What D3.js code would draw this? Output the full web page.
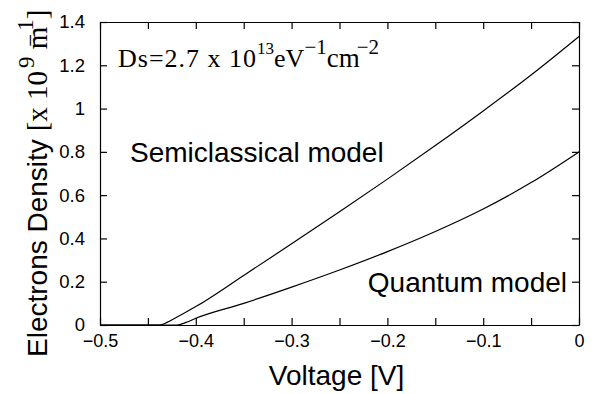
<!DOCTYPE html>
<html><head><meta charset="utf-8">
<script src="https://cdn.jsdelivr.net/npm/d3@7"></script>
<style>body{margin:0;background:#fff}svg{display:block}</style>
</head><body>
<svg id="c" width="599" height="394"></svg>
<script>
const voltage = [-0.5,-0.45,-0.4375,-0.43,-0.42,-0.41,-0.4,-0.35,-0.3,-0.25,-0.2,-0.15,-0.1,-0.05,0];
const semiclassical = [0,0,0,0.012,0.036,0.06,0.085,0.229,0.375,0.523,0.674,0.829,0.989,1.155,1.333];
const quantum = [0,0,0,0,0,0.012,0.031,0.10,0.175,0.254,0.339,0.432,0.536,0.658,0.80];
const xTicks = [-0.5,-0.4,-0.3,-0.2,-0.1,0];
const xMinor = [-0.45,-0.35,-0.25,-0.15,-0.05];
const yTicks = [0,0.2,0.4,0.6,0.8,1,1.2,1.4];

const svg = d3.select("#c");
const L=100,R=579,T=22,B=325;
const x = d3.scaleLinear().domain([-0.5,0]).range([L,R]);
const y = d3.scaleLinear().domain([0,1.4]).range([B,T]);
const sans = "'Liberation Sans', Arial, Helvetica, sans-serif";
const serif = "'Liberation Serif', 'Times New Roman', serif";
const fmtX = d => d===0 ? "0" : "\u2212" + Math.abs(d).toFixed(1);
const fmtY = d => d===0 ? "0" : (Number.isInteger(d) ? String(d) : d.toFixed(1));

const allX = xTicks.concat(xMinor);
const gB = svg.append("g").attr("transform",`translate(0,${B})`)
  .call(d3.axisBottom(x).tickValues(allX).tickSizeInner(-7).tickSizeOuter(0).tickFormat(d=>xTicks.includes(d)?fmtX(d):""));
gB.selectAll("text").attr("font-family",sans).attr("font-size",18).attr("fill","#000").attr("dy","1.05em");
svg.append("g").attr("transform",`translate(0,${T})`)
  .call(d3.axisTop(x).tickValues(allX).tickSizeInner(-7).tickSizeOuter(0).tickFormat(""));
const gL = svg.append("g").attr("transform",`translate(${L},0)`)
  .call(d3.axisLeft(y).tickValues(yTicks).tickSizeInner(-7).tickSizeOuter(0).tickFormat(fmtY).tickPadding(15));
gL.selectAll("text").attr("font-family",sans).attr("font-size",18.5).attr("fill","#000");
svg.append("g").attr("transform",`translate(${R},0)`)
  .call(d3.axisRight(y).tickValues(yTicks).tickSizeInner(-7).tickSizeOuter(0).tickFormat(""));
svg.selectAll(".domain").attr("stroke","#000").attr("stroke-width",1.2);
svg.selectAll(".tick line").attr("stroke","#000").attr("stroke-width",1.2);

const line = d3.line().x((d,i)=>x(voltage[i])).y(d=>y(d)).curve(d3.curveMonotoneX);
svg.append("path").attr("d",line(semiclassical)).attr("fill","none").attr("stroke","#000").attr("stroke-width",1.2);
svg.append("path").attr("d",line(quantum)).attr("fill","none").attr("stroke","#000").attr("stroke-width",1.2);

svg.append("text").attr("x",130).attr("y",162).attr("font-family",sans).attr("font-size",28).text("Semiclassical model");
svg.append("text").attr("x",567).attr("y",292).attr("text-anchor","end").attr("font-family",sans).attr("font-size",28).text("Quantum model");
svg.append("text").attr("x",(L+R)/2-3).attr("y",385).attr("text-anchor","middle").attr("font-family",sans).attr("font-size",28).text("Voltage [V]");

const ds = svg.append("text").attr("x",118).attr("y",67).attr("font-family",serif).attr("font-size",26);
ds.append("tspan").attr("letter-spacing",1).text("Ds=2.7 x 10");
ds.append("tspan").attr("dy",-13).attr("font-size",17).text("13");
ds.append("tspan").attr("dy",13).text("eV");
ds.append("tspan").attr("dy",-13).attr("font-size",21).text("\u22121");
ds.append("tspan").attr("dy",13).attr("font-size",27).text("cm");
ds.append("tspan").attr("dy",-13).attr("dx",-3).attr("font-size",21).text("\u22122");

const yl = svg.append("text").attr("transform","translate(47,357) rotate(-90)").attr("font-family",sans).attr("font-size",28);
yl.append("tspan").text("Electrons Density ");
yl.append("tspan").attr("font-family",serif).attr("font-size",29).text("[x 10");
yl.append("tspan").attr("font-family",serif).attr("font-size",23).attr("dy",-13).attr("dx",3).text("9");
yl.append("tspan").attr("font-family",serif).attr("font-size",29).attr("dy",13).text("  m");
yl.append("tspan").attr("font-family",serif).attr("font-size",23).attr("dy",-9).attr("dx",-20).text("\u2212");
yl.append("tspan").attr("font-family",serif).attr("font-size",23).attr("dy",-5).attr("dx",3).text("1");
yl.append("tspan").attr("font-family",serif).attr("font-size",29).attr("dy",14).text("]");
</script>
</body></html>
